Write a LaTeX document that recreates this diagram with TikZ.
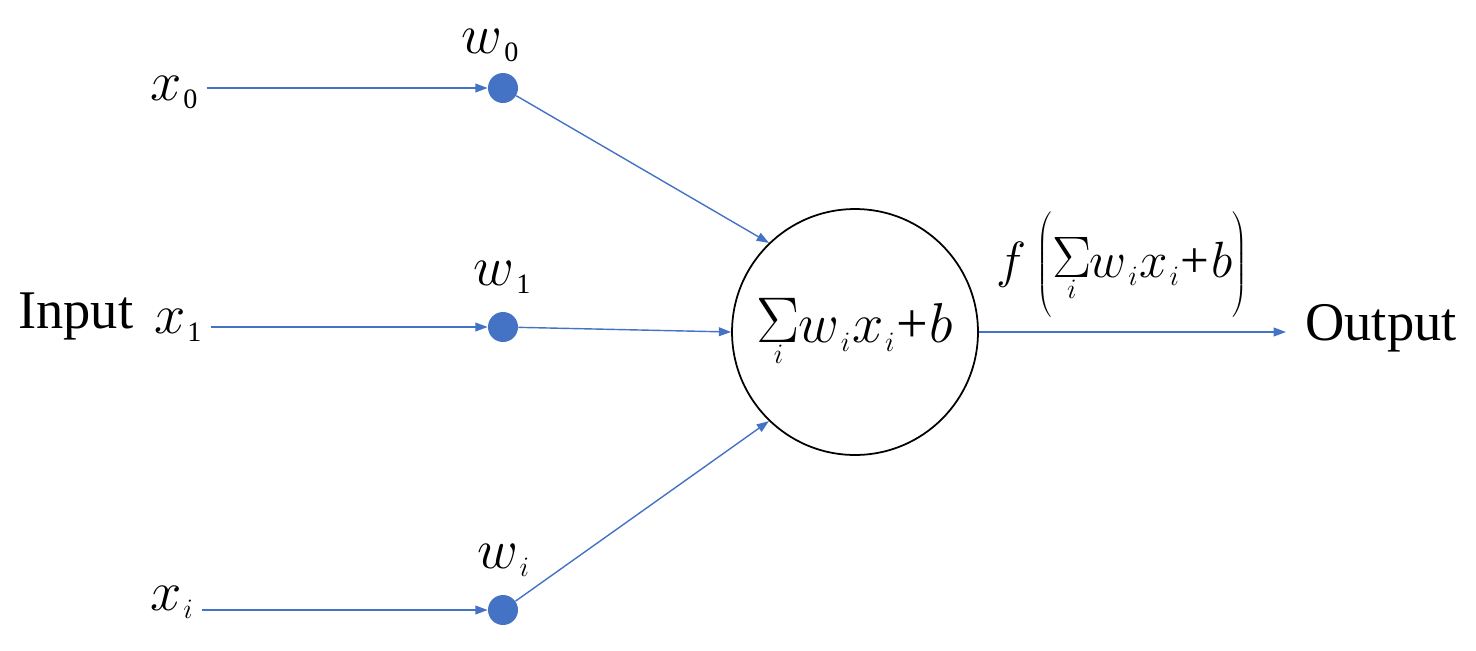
\RequirePackage{fix-cm}
\documentclass[tikz,border=0pt]{standalone}
\usepackage{fontspec}
\setmainfont{Liberation Serif}
\usetikzlibrary{arrows.meta}
\definecolor{wblue}{RGB}{68,114,196}
\newcommand\vsub[2]{$#1$\kern1pt\raisebox{-5pt}{\fontsize{16}{16}\selectfont #2}}
\newcommand\sumi{$\mathop{\scalebox{1.15}{$\Sigma$}}\limits_{\hbox{\fontsize{16}{16}\selectfont$i$}}$}
\newcommand\wxb{\sumi\kern-1pt\vsub{w}{$i$}\kern1pt\vsub{x}{$i$}\kern1pt+\kern1pt$b$}
\tikzset{
  weight/.style={circle,fill=wblue,inner sep=0,minimum size=0.6cm},
  neuron/.style={circle,draw,line width=1pt,minimum size=4.92cm,inner sep=0,font=\fontsize{32}{38}\selectfont},
  conn/.style={draw=wblue,line width=0.8pt,-{Triangle[length=7pt,width=5pt]}},
  lbl/.style={inner sep=0,font=\fontsize{32}{38}\selectfont},
  txt/.style={inner sep=0,font=\fontsize{31}{37}\selectfont},
}
\begin{document}
\begin{tikzpicture}[x=0.02cm,y=-0.02cm]
\useasboundingbox (0,0) rectangle (1476,650);
\node[weight] (d0) at (503,88) {};
\node[weight] (d1) at (503,327) {};
\node[weight] (di) at (503,610) {};
\node[neuron] (sum) at (855,332) {\wxb};
\node[lbl,anchor=base west] (x0) at (150,100) {\vsub{x}{0}};
\node[lbl,anchor=base west] (x1) at (154,333) {\vsub{x}{1}};
\node[lbl,anchor=base west] (xi) at (150,610) {\vsub{x}{$i$}};
\node[lbl,anchor=base] (w0) at (490,53) {\vsub{w}{0}};
\node[lbl,anchor=base] (w1) at (502,285) {\vsub{w}{1}};
\node[lbl,anchor=base] (wi) at (503,568) {\vsub{w}{$i$}};
\node[txt,anchor=base west] (in) at (18,328) {Input};
\node[txt,anchor=base west] (out) at (1305,340) {Output};
\node[inner sep=0,font=\fontsize{29}{34}\selectfont,anchor=base] (f) at (1122,277)
  {$f$\kern6pt$\left(\vrule height 37pt depth 22pt width 0pt\hbox{\wxb}\right)$};
\coordinate (oend) at (1286,332);
\draw[conn,shorten <=5pt] (x0.east |- d0) -- (d0);
\draw[conn,shorten <=5pt] (x1.east |- d1) -- (d1);
\draw[conn,shorten <=5pt] (xi.east |- di) -- (di);
\draw[conn] (d0) -- (sum.134);
\draw[conn] (d1) -- (sum.west);
\draw[conn] (di) -- (sum.226);
\draw[conn] (sum.east) -- (oend);
\end{tikzpicture}
\end{document}
